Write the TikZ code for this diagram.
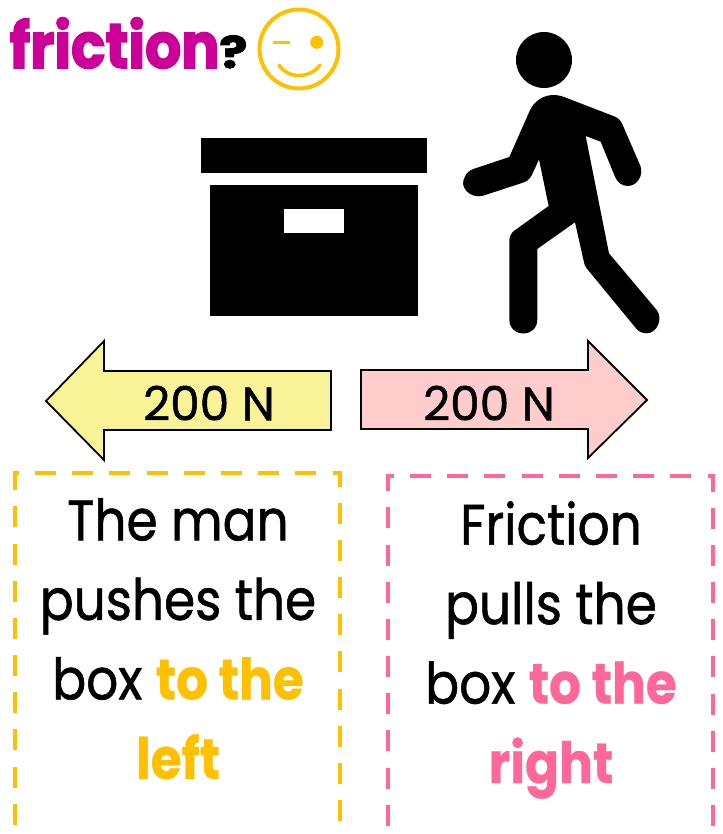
\documentclass[tikz,border=0pt]{standalone}
\usepackage{fontspec}
\setmainfont[FakeStretch=0.88,FakeBold=1,BoldFeatures={FakeStretch=0.88,FakeBold=0.5}]{Poppins}
\newfontfamily\labelfont[FakeStretch=1.0,FakeBold=1]{Poppins}
\newfontfamily\titlefont[FakeStretch=0.9,FakeBold=2.5]{Poppins Bold}
\newfontfamily\qfont[FakeStretch=1.2,FakeBold=2]{Poppins Bold}
\definecolor{gold}{HTML}{FFC000}
\definecolor{rosy}{HTML}{FF6699}
\definecolor{magent}{HTML}{CC0099}
\definecolor{paleyellow}{HTML}{F8F396}
\definecolor{palepink}{HTML}{FFCCCC}
\tikzset{
  solidblack/.style={fill=black,draw=none},
  dashbox/.style={line width=4.6pt,dash pattern=on 21pt off 16.19pt},
  forcearrow/.style={draw=black,line width=1.8pt,line join=miter},
  forcelabel/.style={font=\labelfont\fontsize{47}{47}\selectfont,inner sep=0pt},
  boxtext/.style={font=\fontsize{57}{79.5}\selectfont,align=center,inner sep=0pt,anchor=north},
}
\begin{document}
\begin{tikzpicture}[x=1pt,y=-1pt]
\useasboundingbox (0,0) rectangle (722,834);
% title
\node[anchor=base west,inner sep=0pt,text=magent,font=\titlefont\fontsize{63}{63}\selectfont] (title) at (9.5,68) {friction};
\node[anchor=base west,inner sep=0pt,font=\qfont\fontsize{44}{44}\selectfont] (qmark) at (219,68) {?};
% smiley
\draw[gold,line width=4pt] (299,49) circle (39.5);
\fill[gold] (316.7,42.3) circle (6.5);
\draw[gold,line width=3.5pt,line cap=round] (274,42.3) -- (289,42.3);
\draw[gold,line width=3.5pt,line cap=round] (279,65) .. controls (288,79) and (310,79) .. (320,65);
% box
\fill[solidblack] (201,138) rectangle (427,173);
\fill[solidblack] (210,185) rectangle (418,316);
\fill[white] (284,209) rectangle (344,233);
% person
\begin{scope}[shift={(450,20)},x=0.3333pt,y=-0.3333pt]
\fill[solidblack] (282,120) circle (84pt*0.3333);
\fill[solidblack]
 (310,225) .. controls (322,225) and (335,228) .. (345,232) -- (495,290)
 .. controls (507,295) and (514,304) .. (518,315) -- (571,437)
 .. controls (582,465) and (562,498) .. (533,498)
 .. controls (517,498) and (502,488) .. (495,470) -- (452,365) -- (407,348) -- (477,700) -- (620,870)
 .. controls (640,895) and (622,940) .. (590,940)
 .. controls (577,940) and (566,935) .. (558,925) -- (410,745)
 .. controls (405,738) and (403,733) .. (402,727) -- (375,607) -- (262,687) -- (262,898)
 .. controls (262,955) and (178,955) .. (178,898) -- (178,662)
 .. controls (178,650) and (183,640) .. (193,632) -- (296,558) -- (267,418) -- (248,460)
 .. controls (243,472) and (235,482) .. (222,487) -- (100,527)
 .. controls (60,538) and (25,500) .. (45,470)
 .. controls (50,458) and (58,452) .. (70,447) -- (178,411) -- (238,275)
 .. controls (250,245) and (280,225) .. (310,225) -- cycle;
\end{scope}
% arrows
\draw[forcearrow,fill=paleyellow] (46,401) -- (104,341) -- (104,371) -- (331,371) -- (331,430) -- (104,430) -- (104,460) -- cycle;
\draw[forcearrow,fill=palepink] (647,400) -- (588,341) -- (588,370) -- (361,370) -- (361,429) -- (588,429) -- (588,458) -- cycle;
\node[forcelabel] (leftlabel) at (209,403) {200 N};
\node[forcelabel] (rightlabel) at (489,403) {200 N};
% dashed boxes
\draw[gold,dashbox] (35,473) -- (340,473) -- (340,836) -- (15,836) -- (15,473) -- cycle;
\draw[rosy,dashbox] (410,476) -- (713,476) -- (713,839) -- (388,839) -- (388,476) -- cycle;
% texts
\node[boxtext] (lefttext) at (178,498) {The man\\pushes the\\box \textcolor{gold}{\bfseries to the}\\\textcolor{gold}{\bfseries left}};
\node[boxtext] (righttext) at (551,501) {Friction\\pulls the\\box \textcolor{rosy}{\bfseries to the}\\\textcolor{rosy}{\bfseries right}};
\end{tikzpicture}
\end{document}
